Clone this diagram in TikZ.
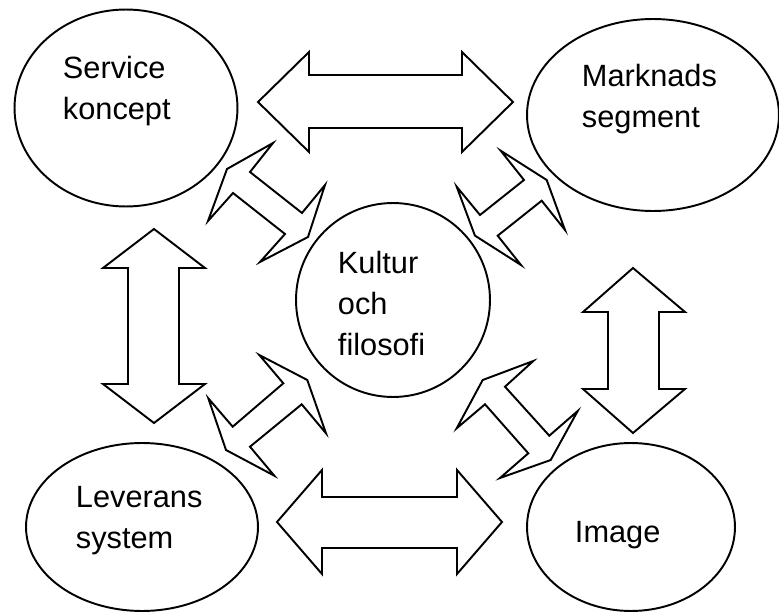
\documentclass[tikz,border=0pt]{standalone}
\usepackage{fontspec}
\setmainfont{Liberation Sans}
\usetikzlibrary{shapes.geometric}
\begin{document}
\begin{tikzpicture}[x=0.02cm, y=-0.02cm, line width=1.1pt, line join=miter,
  blob/.style={draw, ellipse, inner sep=0pt},
  lbl/.style={anchor=north west, align=left, inner sep=0pt,
    font=\fontsize{17.5}{23.3}\selectfont},
  blk/.style={draw}]
  \useasboundingbox (0,0) rectangle (779,612);
  % ellipser i hörnen och cirkeln i mitten
  \node[blob, minimum width=4.46cm, minimum height=3.94cm] (svc) at (126,108) {};
  \node[blob, minimum width=5.04cm, minimum height=3.84cm] (mkt) at (653,115) {};
  \node[blob, minimum width=4.64cm, minimum height=3.36cm] (lev) at (142,527) {};
  \node[blob, minimum width=4.16cm, minimum height=3.36cm] (img) at (631,527) {};
  \node[blob, circle, minimum size=3.88cm] (kul) at (393,300) {};
  % texter
  \node[lbl] (svct) at (62,55) {Service\\koncept};
  \node[lbl] (mktt) at (581,63) {Marknads\\segment};
  \node[lbl] (levt) at (75,485) {Leverans\\system};
  \node[lbl] (imgt) at (574,520) {Image};
  \node[lbl] (kult) at (337,250) {Kultur\\och\\filosofi};
  % vågräta och lodräta dubbelpilar
  \draw[blk] (258,102) -- (309,52) -- (309,75) -- (462,75) -- (462,52) -- (513,102)
    -- (462,152) -- (462,128) -- (309,128) -- (309,152) -- cycle;
  \draw[blk] (277,522) -- (322,470) -- (322,497) -- (457,497) -- (457,470) -- (502,522)
    -- (457,574) -- (457,548) -- (322,548) -- (322,574) -- cycle;
  \draw[blk] (154,229) -- (205,268) -- (179,268) -- (179,384) -- (205,384) -- (154,423)
    -- (103,384) -- (128,384) -- (128,268) -- (103,268) -- cycle;
  \draw[blk] (633,268) -- (685,312) -- (659,312) -- (659,389) -- (685,389) -- (633,433)
    -- (583,389) -- (608,389) -- (608,312) -- (583,312) -- cycle;
  % snedställda dubbelpilar mot mitten
  \draw[blk] (227,169) -- (273,143) -- (250,172) -- (302,213) -- (325,185) -- (308,237)
    -- (260,262) -- (285,234) -- (233,193) -- (208,221) -- cycle;
  \draw[blk] (546.7,180) -- (565,230) -- (541.7,200.7) -- (497.7,235.7) -- (521,265) -- (474.9,235.6)
    -- (456.7,186.7) -- (480,215) -- (524,180) -- (500.7,150.7) -- cycle;
  \draw[blk] (259.3,355) -- (307.3,380) -- (326,433.3) -- (301.7,404.3) -- (250,446.7) -- (274.3,475.7)
    -- (226,450) -- (208.3,398.3) -- (232.7,426.7) -- (283.3,383.3) -- cycle;
  \draw[blk] (533.3,361) -- (482.7,380) -- (456.7,428.3) -- (485,404.3) -- (528.3,453.3) -- (500,478)
    -- (550.7,460) -- (577.7,411) -- (549.3,435.7) -- (505,386.7) -- cycle;
\end{tikzpicture}
\end{document}
